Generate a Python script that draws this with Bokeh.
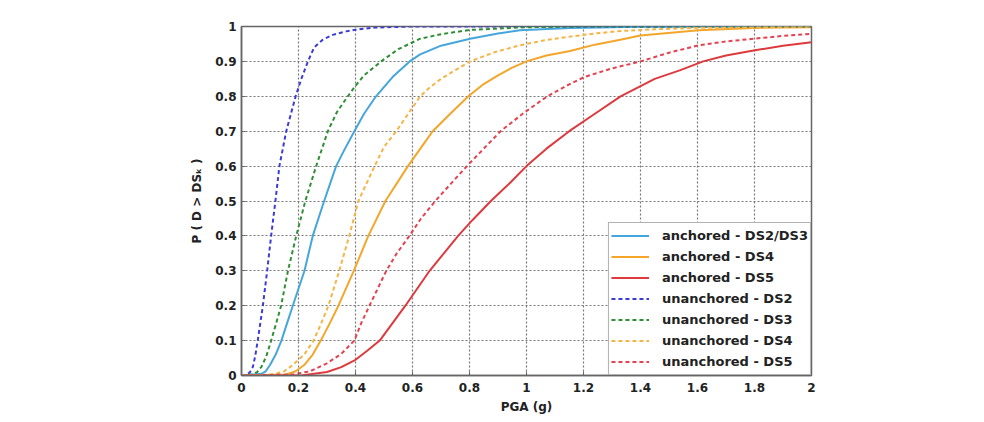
from bokeh.plotting import figure
from bokeh.models import Range1d, FixedTicker, Legend, LegendItem
from bokeh.embed import file_html
from bokeh.resources import INLINE

# ---- data ----
x_ticks = [0, 0.2, 0.4, 0.6, 0.8, 1.0, 1.2, 1.4, 1.6, 1.8, 2.0]
x_tick_labels = ["0", "0.2", "0.4", "0.6", "0.8", "1", "1.2", "1.4", "1.6", "1.8", "2"]
y_ticks = [0, 0.1, 0.2, 0.3, 0.4, 0.5, 0.6, 0.7, 0.8, 0.9, 1.0]
y_tick_labels = ["0", "0.1", "0.2", "0.3", "0.4", "0.5", "0.6", "0.7", "0.8", "0.9", "1"]

anch_ds23_x = [0, 0.07, 0.085, 0.1, 0.12, 0.14, 0.16, 0.18, 0.221, 0.25, 0.29, 0.332, 0.36, 0.396, 0.43, 0.472, 0.53, 0.59, 0.627, 0.7, 0.802, 0.9, 0.977, 1.153, 1.4, 2.0]
anch_ds23_y = [0, 0.005, 0.012, 0.03, 0.06, 0.1, 0.15, 0.2, 0.3, 0.4, 0.5, 0.6, 0.645, 0.7, 0.75, 0.8, 0.855, 0.9, 0.92, 0.945, 0.965, 0.98, 0.989, 0.996, 0.999, 1.0]

anch_ds4_x = [0, 0.157, 0.19, 0.22, 0.25, 0.278, 0.31, 0.34, 0.394, 0.445, 0.505, 0.584, 0.671, 0.72, 0.796, 0.85, 0.9, 0.95, 1.0, 1.07, 1.153, 1.24, 1.329, 1.4, 1.604, 1.797, 2.0]
anch_ds4_y = [0, 0.003, 0.012, 0.03, 0.06, 0.1, 0.15, 0.2, 0.3, 0.4, 0.5, 0.6, 0.7, 0.74, 0.8, 0.835, 0.86, 0.882, 0.9, 0.917, 0.93, 0.948, 0.962, 0.974, 0.989, 0.996, 0.998]

anch_ds5_x = [0, 0.215, 0.3, 0.35, 0.4, 0.44, 0.485, 0.53, 0.575, 0.66, 0.71, 0.76, 0.81, 0.875, 0.94, 1.0, 1.07, 1.15, 1.24, 1.33, 1.45, 1.54, 1.62, 1.7, 1.797, 1.9, 2.0]
anch_ds5_y = [0, 0.001, 0.01, 0.024, 0.045, 0.07, 0.1, 0.15, 0.2, 0.3, 0.35, 0.4, 0.445, 0.5, 0.55, 0.6, 0.65, 0.7, 0.75, 0.8, 0.85, 0.875, 0.9, 0.917, 0.931, 0.945, 0.955]

unanch_ds2_x = [0, 0.02, 0.03, 0.04, 0.048, 0.057, 0.075, 0.09, 0.104, 0.119, 0.133, 0.157, 0.19, 0.21, 0.233, 0.255, 0.285, 0.32, 0.367, 0.41, 0.47, 0.6, 2.0]
unanch_ds2_y = [0, 0.003, 0.01, 0.025, 0.055, 0.1, 0.2, 0.3, 0.4, 0.5, 0.6, 0.7, 0.8, 0.85, 0.9, 0.94, 0.962, 0.976, 0.986, 0.992, 0.997, 1.0, 1.0]

unanch_ds3_x = [0, 0.04, 0.055, 0.07, 0.087, 0.104, 0.12, 0.139, 0.163, 0.192, 0.224, 0.262, 0.303, 0.335, 0.373, 0.40, 0.43, 0.49, 0.55, 0.627, 0.7, 0.8, 1.0, 1.2, 2.0]
unanch_ds3_y = [0, 0.003, 0.01, 0.025, 0.055, 0.1, 0.145, 0.2, 0.3, 0.4, 0.5, 0.6, 0.7, 0.755, 0.8, 0.83, 0.86, 0.9, 0.935, 0.965, 0.978, 0.99, 0.998, 1.0, 1.0]

unanch_ds4_x = [0, 0.11, 0.15, 0.18, 0.22, 0.253, 0.28, 0.305, 0.343, 0.378, 0.41, 0.467, 0.5, 0.543, 0.585, 0.627, 0.66, 0.70, 0.75, 0.802, 0.89, 0.977, 1.06, 1.153, 1.24, 1.329, 1.45, 1.6, 2.0]
unanch_ds4_y = [0, 0.003, 0.012, 0.03, 0.06, 0.1, 0.15, 0.2, 0.3, 0.4, 0.5, 0.6, 0.655, 0.7, 0.75, 0.8, 0.825, 0.85, 0.875, 0.9, 0.927, 0.946, 0.96, 0.971, 0.98, 0.987, 0.992, 0.996, 1.0]

unanch_ds5_x = [0, 0.18, 0.24, 0.3, 0.35, 0.396, 0.42, 0.449, 0.508, 0.545, 0.589, 0.63, 0.68, 0.735, 0.791, 0.85, 0.909, 0.99, 1.073, 1.14, 1.202, 1.3, 1.4, 1.5, 1.604, 1.7, 1.797, 1.9, 2.0]
unanch_ds5_y = [0, 0.003, 0.012, 0.035, 0.062, 0.1, 0.15, 0.2, 0.3, 0.35, 0.4, 0.45, 0.5, 0.55, 0.6, 0.65, 0.7, 0.752, 0.8, 0.83, 0.855, 0.88, 0.9, 0.925, 0.946, 0.957, 0.965, 0.973, 0.979]

series = [
    ("anchored - DS2/DS3", anch_ds23_x, anch_ds23_y, "#45a6dc", "solid"),
    ("anchored - DS4", anch_ds4_x, anch_ds4_y, "#f4a62a", "solid"),
    ("anchored - DS5", anch_ds5_x, anch_ds5_y, "#de3a3e", "solid"),
    ("unanchored - DS2", unanch_ds2_x, unanch_ds2_y, "#3b3bd6", "4 3"),
    ("unanchored - DS3", unanch_ds3_x, unanch_ds3_y, "#2f8f36", "4 3"),
    ("unanchored - DS4", unanch_ds4_x, unanch_ds4_y, "#f5b445", "4 3"),
    ("unanchored - DS5", unanch_ds5_x, unanch_ds5_y, "#e5414e", "4 3"),
]

FONT = "DejaVu Sans"

p = figure(width=976, height=418, x_range=Range1d(0, 2), y_range=Range1d(0, 1),
           output_backend="svg", toolbar_location=None,
           min_border_left=241, min_border_right=165, min_border_top=26, min_border_bottom=43)
p.background_fill_color = "white"
p.border_fill_color = "white"
p.outline_line_color = "#666666"
p.outline_line_width = 1.5

for ax, ticks, labels in ((p.xaxis[0], x_ticks, x_tick_labels), (p.yaxis[0], y_ticks, y_tick_labels)):
    ax.ticker = FixedTicker(ticks=ticks)
    ax.major_label_overrides = {t: l for t, l in zip(ticks, labels)}
    ax.major_label_text_font = FONT
    ax.major_label_text_font_style = "bold"
    ax.major_label_text_font_size = "12px"
    ax.major_label_text_color = "#222222"
    ax.axis_line_color = "#666666"
    ax.axis_line_width = 1.5
    ax.major_tick_in = 4
    ax.major_tick_out = 0
    ax.major_tick_line_color = "#666666"
    ax.minor_tick_line_color = None
    ax.axis_label_text_font = FONT
    ax.axis_label_text_font_style = "bold"
    ax.axis_label_text_font_size = "12px"
    ax.axis_label_text_color = "#222222"

p.xaxis.axis_label = "PGA (g)"
p.yaxis.axis_label = "P ( D > DSₖ )"
p.xaxis.major_label_standoff = 7
p.xaxis.axis_label_standoff = 5
p.yaxis.major_label_standoff = 5
p.yaxis.axis_label_standoff = 8

for g in (p.xgrid[0], p.ygrid[0]):
    g.grid_line_color = "#777777"
    g.grid_line_dash = "2 2"
    g.grid_line_width = 1.2

items = []
for name, xs, ys, color, dash in series:
    r = p.line(xs, ys, line_color=color, line_width=2, line_dash=dash)
    items.append(LegendItem(label=name, renderers=[r]))

legend = Legend(items=items, location="bottom_right")
legend.margin = 0
legend.padding = 2
legend.spacing = 0
legend.label_height = 21
legend.glyph_height = 21
legend.glyph_width = 38
legend.label_standoff = 13
legend.label_text_font = FONT
legend.label_text_font_style = "bold"
legend.label_text_font_size = "13px"
legend.label_text_color = "#222222"
legend.border_line_color = "#666666"
legend.border_line_width = 1.5
legend.background_fill_color = "white"
legend.background_fill_alpha = 1
p.add_layout(legend)

open("out.html", "w").write(file_html(p, INLINE))
